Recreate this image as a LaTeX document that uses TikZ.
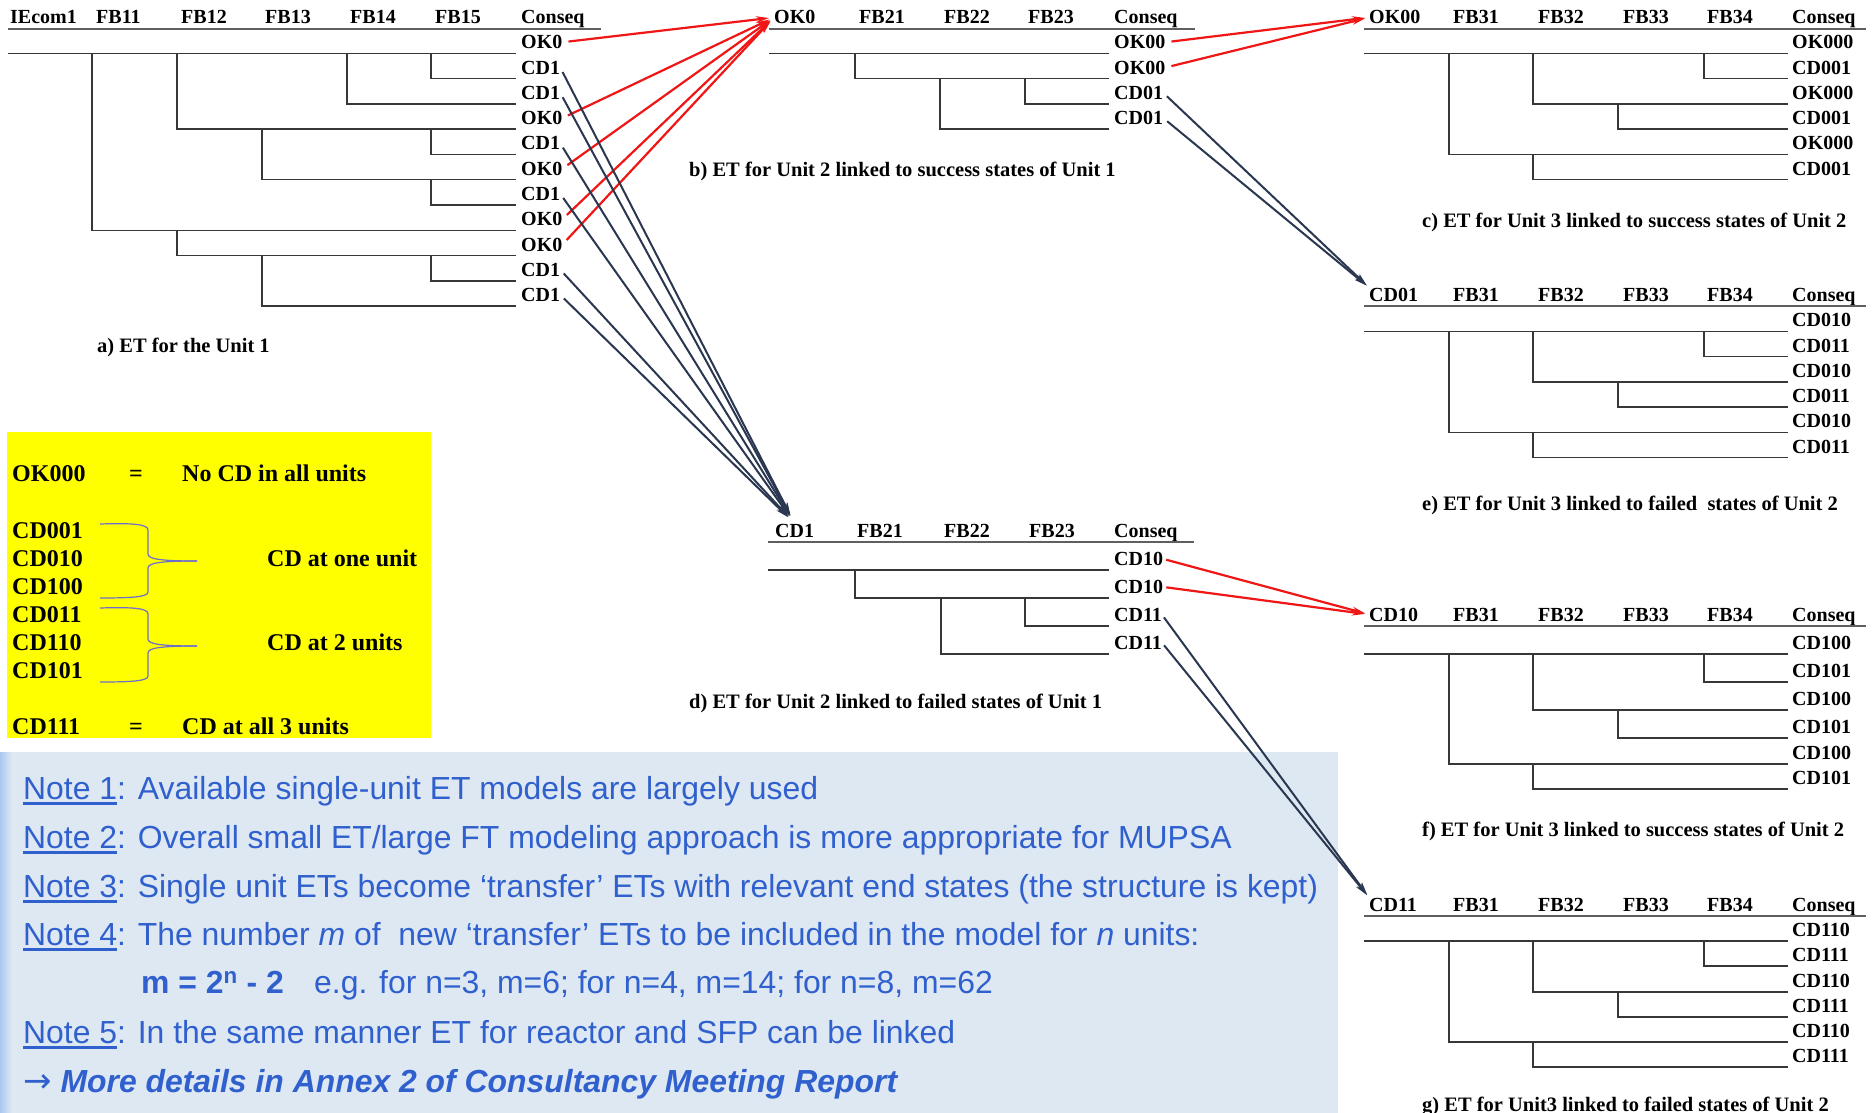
\documentclass[tikz,border=0pt]{standalone}
\usepackage{fontspec}
\setmainfont{Liberation Serif}
\setsansfont{Liberation Sans}
\newfontfamily\arrowfont{DejaVu Sans}
\usetikzlibrary{arrows.meta}
\definecolor{etgray}{RGB}{55,55,55}
\definecolor{hdrgray}{RGB}{95,95,95}
\definecolor{redarr}{RGB}{240,22,22}
\definecolor{darkarr}{RGB}{42,55,80}
\definecolor{noteblue}{RGB}{48,96,205}
\definecolor{notebg}{RGB}{222,232,243}
\definecolor{leftblue}{RGB}{170,200,240}
\definecolor{braceblue}{RGB}{110,110,205}
\definecolor{ylwbox}{RGB}{255,255,0}
\newcommand\noteul[1]{\setbox0\hbox{#1}\rlap{\rule[-5.5pt]{\wd0}{2.8pt}}\box0}
\newcommand\treethreelines[6]{%
  \draw[etl] (1364,#1) -- (1788,#1);
  \draw[etl] (1704,#1) |- (1788,#2);
  \draw[etl] (1533,#1) |- (1788,#3);
  \draw[etl] (1618,#3) |- (1788,#4);
  \draw[etl] (1449,#1) |- (1788,#5);
  \draw[etl] (1533,#5) |- (1788,#6);}
\newcommand\treethreehdr[3]{%
  \node[hdr] (#1h0) at (1369,#2) {#3};
  \node[hdr] (#1h1) at (1453,#2) {FB31};
  \node[hdr] (#1h2) at (1538,#2) {FB32};
  \node[hdr] (#1h3) at (1623,#2) {FB33};
  \node[hdr] (#1h4) at (1707,#2) {FB34};
  \node[hdr] (#1h5) at (1792,#2) {Conseq};
  \draw[hdl] (1364,{#2+5}) -- (1866,{#2+5});}
\begin{document}
\begin{tikzpicture}[x=1pt,y=-1pt,
  etl/.style={draw=etgray,line width=1.4pt},
  hdl/.style={draw=hdrgray,line width=1.6pt},
  lab/.style={anchor=base west,inner sep=0pt,font=\fontsize{20}{24}\selectfont\bfseries},
  hdr/.style={anchor=base west,inner sep=0pt,font=\fontsize{20}{24}\selectfont\bfseries},
  captxt/.style={anchor=base west,inner sep=0pt,font=\fontsize{20.5}{24}\selectfont\bfseries},
  ylw/.style={anchor=base west,inner sep=0pt,font=\fontsize{24}{28}\selectfont\bfseries},
  note/.style={anchor=base west,inner sep=0pt,text=noteblue,font=\fontsize{31.9}{36}\selectfont\sffamily},
  redA/.style={draw=redarr,line width=2.2pt,-{Stealth[length=13pt,width=6.5pt]}},
  darkA/.style={draw=darkarr,line width=2pt,-{Stealth[length=13pt,width=6.5pt]}},
  brc/.style={draw=braceblue,line width=1.2pt}
]
\useasboundingbox (0,0) rectangle (1872,1113);
\fill[white] (0,0) rectangle (1872,1113);
% backgrounds
\fill[notebg] (0,752) rectangle (1338,1113);
\shade[left color=leftblue,right color=notebg] (0,752) rectangle (12,1113);
\fill[ylwbox] (7,432) rectangle (431,738);

% ---------- Tree a (Unit 1)
\node[hdr] (ah0) at (10,24) {IEcom1};
\node[hdr] (ah1) at (96,24) {FB11};
\node[hdr] (ah2) at (181,24) {FB12};
\node[hdr] (ah3) at (265,24) {FB13};
\node[hdr] (ah4) at (350,24) {FB14};
\node[hdr] (ah5) at (435,24) {FB15};
\node[hdr] (ah6) at (521,24) {Conseq};
\draw[hdl] (8,29) -- (601,29);
\draw[etl] (8,53.3) -- (516,53.3);
\draw[etl] (431,53.3) |- (516,78.6);
\draw[etl] (347,53.3) |- (516,103.9);
\draw[etl] (177,53.3) |- (516,129.1);
\draw[etl] (431,129.1) |- (516,154.4);
\draw[etl] (262,129.1) |- (516,179.7);
\draw[etl] (431,179.7) |- (516,204.9);
\draw[etl] (92,53.3) |- (516,230.2);
\draw[etl] (177,230.2) |- (516,255.5);
\draw[etl] (431,255.5) |- (516,280.8);
\draw[etl] (262,255.5) |- (516,306.0);
\foreach \t/\y [count=\i] in {OK0/53.3,CD1/78.6,CD1/103.9,OK0/129.1,CD1/154.4,OK0/179.7,CD1/204.9,OK0/230.2,OK0/255.5,CD1/280.8,CD1/306.0}
  \node[lab] (a\i) at (521,{\y-4.5}) {\t};
\node[captxt] (capa) at (97,352) {a) ET for the Unit 1};

% ---------- Tree b
\node[hdr] (bh0) at (774,24) {OK0};
\node[hdr] (bh1) at (859,24) {FB21};
\node[hdr] (bh2) at (944,24) {FB22};
\node[hdr] (bh3) at (1028,24) {FB23};
\node[hdr] (bh4) at (1114,24) {Conseq};
\draw[hdl] (769,29) -- (1195,29);
\draw[etl] (769,53.3) -- (1109,53.3);
\draw[etl] (855,53.3) |- (1109,78.6);
\draw[etl] (1025,78.6) |- (1109,103.9);
\draw[etl] (940,78.6) |- (1109,129.1);
\foreach \t/\y [count=\i] in {OK00/53.3,OK00/78.6,CD01/103.9,CD01/129.1}
  \node[lab] (b\i) at (1114,{\y-4.5}) {\t};
\node[captxt] (capb) at (689,176) {b) ET for Unit 2 linked to success states of Unit 1};

% ---------- Tree d
\node[hdr] (dh0) at (775,537) {CD1};
\node[hdr] (dh1) at (857,537) {FB21};
\node[hdr] (dh2) at (944,537) {FB22};
\node[hdr] (dh3) at (1029,537) {FB23};
\node[hdr] (dh4) at (1114,537) {Conseq};
\draw[hdl] (768,542) -- (1194,542);
\draw[etl] (768,570) -- (1109,570);
\draw[etl] (855,570) |- (1109,598);
\draw[etl] (1025,598) |- (1109,626);
\draw[etl] (941,598) |- (1109,654);
\foreach \t/\y [count=\i] in {CD10/570,CD10/598,CD11/626,CD11/654}
  \node[lab] (d\i) at (1114,{\y-4.5}) {\t};
\node[captxt] (capd) at (689,708) {d) ET for Unit 2 linked to failed states of Unit 1};

% ---------- Tree c
\treethreehdr{c}{24}{OK00}
\treethreelines{53.3}{78.6}{103.9}{129.1}{154.4}{179.7}
\foreach \t/\y [count=\i] in {OK000/53.3,CD001/78.6,OK000/103.9,CD001/129.1,OK000/154.4,CD001/179.7}
  \node[lab] (c\i) at (1792,{\y-4.5}) {\t};
\node[captxt] (capc) at (1422,227) {c) ET for Unit 3 linked to success states of Unit 2};

% ---------- Tree e
\treethreehdr{e}{301}{CD01}
\treethreelines{331.2}{356.5}{381.8}{407}{432.3}{457.6}
\foreach \t/\y [count=\i] in {CD010/331.2,CD011/356.5,CD010/381.8,CD011/407,CD010/432.3,CD011/457.6}
  \node[lab] (e\i) at (1792,{\y-4.5}) {\t};
\node[captxt] (cape) at (1422,510) {e) ET for Unit 3 linked to failed~ states of Unit 2};

% ---------- Tree f
\treethreehdr{f}{621}{CD10}
\treethreelines{654}{682}{710}{738}{764}{789}
\foreach \t/\y [count=\i] in {CD100/654,CD101/682,CD100/710,CD101/738,CD100/764,CD101/789}
  \node[lab] (f\i) at (1792,{\y-4.5}) {\t};
\node[captxt] (capf) at (1422,836) {f) ET for Unit 3 linked to success states of Unit 2};

% ---------- Tree g
\treethreehdr{g}{911}{CD11}
\treethreelines{941}{966}{992}{1017}{1042}{1067}
\foreach \t/\y [count=\i] in {CD110/941,CD111/966,CD110/992,CD111/1017,CD110/1042,CD111/1067}
  \node[lab] (g\i) at (1792,{\y-4.5}) {\t};
\node[captxt] (capg) at (1422,1111) {g) ET for Unit3 linked to failed states of Unit 2};

% ---------- Arrows
\foreach \s in {1,4,6,8,9}
  \draw[redA,shorten <=6pt,shorten >=5pt] (a\s.east) -- (bh0.west);
\foreach \s in {2,3,5,7,10,11}
  \draw[darkA,shorten <=5pt,shorten >=9pt] (a\s.east) -- (dh0.north);
\foreach \s in {1,2}
  \draw[redA,shorten <=6pt,shorten >=4pt] (b\s.east) -- (ch0.west);
\foreach \s in {3,4}
  \draw[darkA,shorten <=5pt,shorten >=3pt] (b\s.east) -- (eh0.north west);
\foreach \s in {1,2}
  \draw[redA,shorten <=3pt,shorten >=4pt] (d\s.east) -- (fh0.west);
\foreach \s in {3,4}
  \draw[darkA,shorten <=3pt,shorten >=3pt] (d\s.east) -- (gh0.north west);

% ---------- Yellow legend
\node[ylw] (y1) at (12,481) {OK000};
\node[ylw] (y1e) at (129,481) {=};
\node[ylw] (y1t) at (182,481) {No CD in all units};
\node[ylw] (y2) at (12,538) {CD001};
\node[ylw] (y3) at (12,566) {CD010};
\node[ylw] (y4) at (12,594) {CD100};
\node[ylw] (y5) at (12,622) {CD011};
\node[ylw] (y6) at (12,650) {CD110};
\node[ylw] (y7) at (12,678) {CD101};
\node[ylw] (y8) at (12,734) {CD111};
\node[ylw] (y8e) at (129,734) {=};
\node[ylw] (y8t) at (182,734) {CD at all 3 units};
\node[ylw] (yone) at (267,566) {CD at one unit};
\node[ylw] (ytwo) at (267,650) {CD at 2 units};
\draw[brc] (100,524) .. controls (132,523) and (148,524) .. (148,530) -- (148,554)
  .. controls (148,559) and (160,561) .. (197,561);
\draw[brc] (197,561) .. controls (160,561) and (148,563) .. (148,568) -- (148,592)
  .. controls (148,597) and (132,598) .. (100,598);
\draw[brc] (100,608) .. controls (132,607) and (148,608) .. (148,614) -- (148,639)
  .. controls (148,644) and (160,646) .. (197,646);
\draw[brc] (197,646) .. controls (160,646) and (148,648) .. (148,653) -- (148,676)
  .. controls (148,681) and (132,682) .. (100,682);

% ---------- Notes
\node[note] (n1) at (23,799) {\noteul{Note 1}: Available single-unit ET models are largely used};
\node[note] (n2) at (23,848) {\noteul{Note 2}: Overall small ET/large FT modeling approach is more appropriate for MUPSA};
\node[note] (n3) at (23,897) {\noteul{Note 3}: Single unit ETs become ‘transfer’ ETs with relevant end states (the structure is kept)};
\node[note] (n4) at (23,945) {\noteul{Note 4}: The number \textit{m} of\ \ new ‘transfer’ ETs to be included in the model for \textit{n} units:};
\node[note] (n4f) at (141,993) {\textbf{m = 2\textsuperscript{n} - 2}};
\node[note] (n4e) at (314,993) {e.g. for n=3, m=6; for n=4, m=14; for n=8, m=62};
\node[note] (n5) at (23,1043) {\noteul{Note 5}: In the same manner ET for reactor and SFP can be linked};
\node[note] (n6) at (23,1092) {{\arrowfont\fontsize{34}{36}\selectfont →} \textbf{\textit{More details in Annex 2 of Consultancy Meeting Report}}};
\end{tikzpicture}
\end{document}
